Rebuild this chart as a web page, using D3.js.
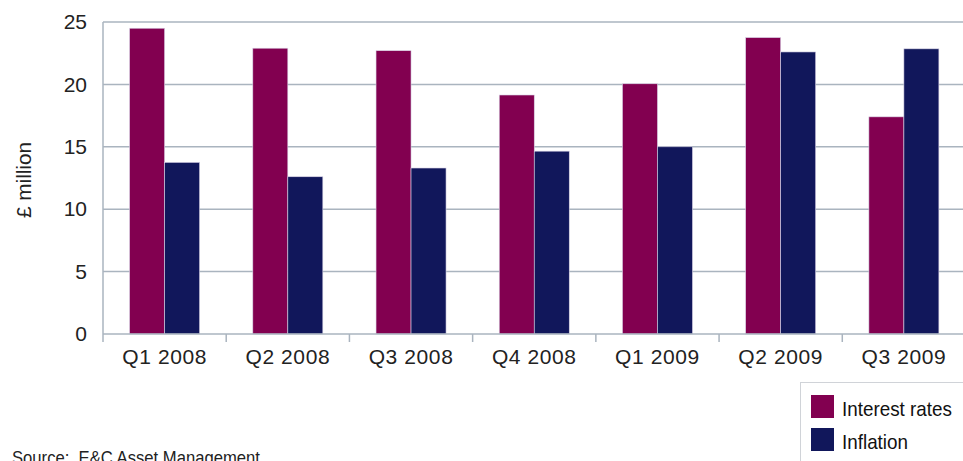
<!DOCTYPE html>
<html><head><meta charset="utf-8">
<script src="https://cdn.jsdelivr.net/npm/d3@7"></script>
<style>
body{margin:0;background:#fff;overflow:hidden}
text{font-family:"Liberation Sans",Arial,sans-serif}
</style></head><body>
<svg id="c" width="963" height="461"></svg>
<script>
const categories = ["Q1 2008","Q2 2008","Q3 2008","Q4 2008","Q1 2009","Q2 2009","Q3 2009"];
const interestRates = [24.5, 22.9, 22.7, 19.15, 20.05, 23.75, 17.4];
const inflation = [13.75, 12.6, 13.3, 14.65, 15.0, 22.6, 22.85];
const yTicks = [0,5,10,15,20,25];
const seriesNames = ["Interest rates","Inflation"];
const colors = ["#820050","#11175b"];

const svg = d3.select("#c");
const pL = 103, pR = 965.5, pT = 22, pB = 334;
const x = d3.scaleBand().domain(categories).range([pL,pR]).paddingInner(0).paddingOuter(0);
const y = d3.scaleLinear().domain([0,25]).range([pB,pT]);
const x1 = d3.scaleBand().domain(seriesNames).range([0,x.bandwidth()]).paddingInner(0).paddingOuter(0.76);

// gridlines
svg.append("g").selectAll("line").data(yTicks.filter(d=>d>0)).join("line")
  .attr("x1",pL).attr("x2",963).attr("y1",d=>y(d)).attr("y2",d=>y(d))
  .attr("stroke","#aab4bf").attr("stroke-width",1.5);

// y axis
const ya = d3.axisLeft(y).tickValues(yTicks).tickSize(0).tickPadding(16);
const gy = svg.append("g").attr("transform",`translate(${pL},0)`).call(ya);
gy.select(".domain").remove();
gy.selectAll("text").attr("font-size",21).attr("fill","#222").attr("font-family","Liberation Sans, Arial, sans-serif");
svg.append("line").attr("x1",pL).attr("x2",pL).attr("y1",pT).attr("y2",342)
  .attr("stroke","#aab4bf").attr("stroke-width",1.5);

// bars
const data = categories.map((c,i)=>({c, vals:[interestRates[i], inflation[i]]}));
const groups = svg.append("g").selectAll("g").data(data).join("g")
  .attr("transform",d=>`translate(${x(d.c)},0)`);
groups.selectAll("rect").data(d=>d.vals.map((v,j)=>({v,j}))).join("rect")
  .attr("x",d=>x1(seriesNames[d.j])).attr("width",x1.bandwidth())
  .attr("y",d=>y(d.v)).attr("height",d=>pB-y(d.v))
  .attr("fill",d=>colors[d.j]).attr("stroke","#d9d3e6").attr("stroke-width",0.6);

// x axis
const xa = d3.axisBottom(x).tickSize(0).tickPadding(15);
const gx = svg.append("g").attr("transform",`translate(0,${pB})`).call(xa);
gx.select(".domain").remove();
gx.selectAll("text").attr("font-size",21).attr("letter-spacing",0.6).attr("fill","#222").attr("font-family","Liberation Sans, Arial, sans-serif");
svg.append("line").attr("x1",pL).attr("x2",963).attr("y1",pB).attr("y2",pB)
  .attr("stroke","#aab4bf").attr("stroke-width",1.5);
svg.append("g").selectAll("line").data(categories.slice(1)).join("line")
  .attr("x1",d=>x(d)).attr("x2",d=>x(d)).attr("y1",pB).attr("y2",pB+8)
  .attr("stroke","#aab4bf").attr("stroke-width",1.5);

// y title
svg.append("text").attr("transform","translate(31,180) rotate(-90)")
  .attr("text-anchor","middle").attr("font-size",21).attr("fill","#222")
  .attr("textLength",76).attr("lengthAdjust","spacingAndGlyphs").text("£ million");

// legend
const lg = svg.append("g");
lg.append("rect").attr("x",800.5).attr("y",382.5).attr("width",200).attr("height",100)
  .attr("fill","#fff").attr("stroke","#d0d3d8").attr("stroke-width",1);
const legLens = [110, 66];
seriesNames.forEach((n,i)=>{
  lg.append("rect").attr("x",811).attr("y",395+i*33).attr("width",23).attr("height",23).attr("fill",colors[i]);
  lg.append("text").attr("x",842).attr("y",416+i*33)
    .attr("font-size",21).attr("fill","#111")
    .attr("textLength",legLens[i]).attr("lengthAdjust","spacingAndGlyphs").text(n);
});

// source
svg.append("text").attr("x",12).attr("y",464).attr("font-size",19).attr("fill","#222")
  .attr("xml:space","preserve").attr("textLength",248).attr("lengthAdjust","spacingAndGlyphs")
  .text("Source:  E&C Asset Management");
</script>
</body></html>
